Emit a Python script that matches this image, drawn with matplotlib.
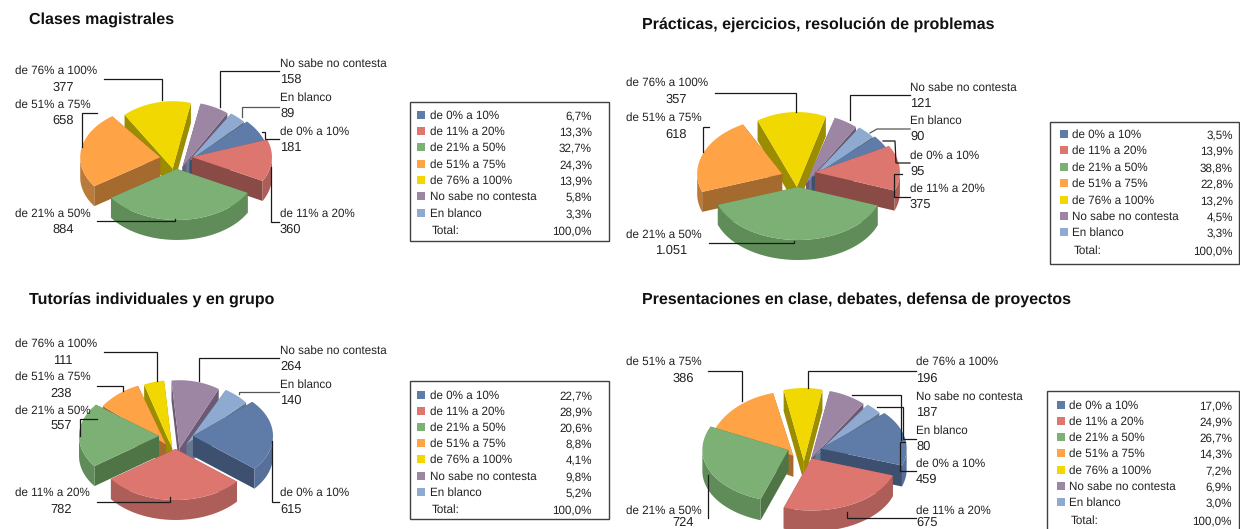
import numpy as np
import matplotlib
matplotlib.use('Agg')
import matplotlib.pyplot as plt
from matplotlib.patches import Polygon, Rectangle

plt.rcParams['font.family'] = ['Liberation Sans', 'DejaVu Sans']
plt.rcParams['text.hinting'] = 'no_hinting'

categories = ['de 0% a 10%', 'de 11% a 20%', 'de 21% a 50%', 'de 51% a 75%',
              'de 76% a 100%', 'No sabe no contesta', 'En blanco']

titles = ['Clases magistrales', 'Prácticas, ejercicios, resolución de problemas',
          'Tutorías individuales y en grupo', 'Presentaciones en clase, debates, defensa de proyectos']

counts_clases = [181, 360, 884, 658, 377, 158, 89]
counts_practicas = [95, 375, 1051, 618, 357, 121, 90]
counts_tutorias = [615, 782, 557, 238, 111, 264, 140]
counts_present = [459, 675, 724, 386, 196, 187, 80]

count_labels_clases = ['181', '360', '884', '658', '377', '158', '89']
count_labels_practicas = ['95', '375', '1.051', '618', '357', '121', '90']
count_labels_tutorias = ['615', '782', '557', '238', '111', '264', '140']
count_labels_present = ['459', '675', '724', '386', '196', '187', '80']

pct_clases = ['6,7%', '13,3%', '32,7%', '24,3%', '13,9%', '5,8%', '3,3%', '100,0%']
pct_practicas = ['3,5%', '13,9%', '38,8%', '22,8%', '13,2%', '4,5%', '3,3%', '100,0%']
pct_tutorias = ['22,7%', '28,9%', '20,6%', '8,8%', '4,1%', '9,8%', '5,2%', '100,0%']
pct_present = ['17,0%', '24,9%', '26,7%', '14,3%', '7,2%', '6,9%', '3,0%', '100,0%']

top_colors = ['#5F7CA8', '#DE7670', '#7CB074', '#FFA347', '#F0D800', '#9C86A4', '#8FAAD0']
wall_colors = ['#3D5070', '#8A4A46', '#4F7446', '#A56A2E', '#9C8C00', '#6C5A74', '#65788F']
rim_colors = ['#56709A', '#AE5E58', '#5F8C58', '#B97A3A', '#B8A400', '#7C6A84', '#7288A6']

TEXT = '#222222'
SIZE = 8.4


def pie3d(ax, values, cx, cy, rx, ry, depth, start, ex, stretch, lift):
    frac = np.array(values) / sum(values)
    edges = start - np.concatenate([[0], np.cumsum(frac)]) * 360
    order = []
    for i in range(len(values)):
        order.append((np.sin(np.radians((edges[i] + edges[i + 1]) / 2)), i))
    for s, i in sorted(order, reverse=True):
        mid = np.radians((edges[i] + edges[i + 1]) / 2)
        # side slices sit higher, back slices look longer (excel's perspective)
        ox = cx + ex * np.cos(mid)
        oy = cy - lift * np.cos(mid) ** 2
        ry_back = ry + stretch * np.sin(mid) ** 2
        t = np.radians(np.linspace(edges[i], edges[i + 1], 80))
        xs = ox + rx * np.cos(t)
        ys = oy - np.where(np.sin(t) > 0, ry_back, ry) * np.sin(t)
        for k in (0, -1):
            wall = [(ox, oy), (xs[k], ys[k]), (xs[k], ys[k] + depth), (ox, oy + depth)]
            ax.add_patch(Polygon(wall, fc=wall_colors[i], ec='none', zorder=2))
        front = np.sin(t) < 0.02
        if front.any():
            fx, fy = xs[front], ys[front]
            rim = np.column_stack([np.r_[fx, fx[::-1]], np.r_[fy, fy[::-1] + depth]])
            ax.add_patch(Polygon(rim, fc=rim_colors[i], ec='none', zorder=2))
        top = np.column_stack([np.r_[ox, xs], np.r_[oy, ys]])
        ax.add_patch(Polygon(top, fc=top_colors[i], ec='none', zorder=2))


def legend_box(ax, x0, y0, x1, y1, rows, swatch_x, text_x, pct_x, pcts):
    ax.add_patch(Rectangle((x0, y0), x1 - x0, y1 - y0, fc='white', ec='#404040', lw=1, zorder=3))
    for i, name in enumerate(categories):
        ax.add_patch(Rectangle((swatch_x, rows[i] - 4), 8, 8, fc=top_colors[i], ec='none', zorder=4))
        ax.text(text_x, rows[i] + 1, name, fontsize=SIZE, va='center', color=TEXT, zorder=4)
        ax.text(pct_x, rows[i] + 1, pcts[i], fontsize=SIZE, va='center', ha='right', color=TEXT, zorder=4)
    ax.text(text_x + 2, rows[7] + 1, 'Total:', fontsize=SIZE, va='center', color=TEXT, zorder=4)
    ax.text(pct_x, rows[7] + 1, pcts[7], fontsize=SIZE, va='center', ha='right', color=TEXT, zorder=4)


def label(ax, x, y, idx, count, y2, right=None):
    ax.text(x, y + 1, categories[idx], fontsize=SIZE, va='center', color=TEXT, zorder=5)
    if right is None:
        ax.text(x, y2 + 1, count, fontsize=9.3, va='center', color=TEXT, zorder=5)
    else:
        ax.text(right, y2 + 1, count, fontsize=9.3, va='center', ha='right', color=TEXT, zorder=5)


def leader(ax, *pts, color='#1a1a1a'):
    xs, ys = zip(*pts)
    ax.plot(xs, ys, color=color, lw=0.9, zorder=5, solid_joinstyle='miter')


fig = plt.figure(figsize=(12.4, 5.29), dpi=100)
ax = fig.add_axes([0, 0, 1, 1])
ax.set_xlim(0, 1240)
ax.set_ylim(529, 0)
ax.axis('off')

ax.text(29, 20, titles[0], fontsize=11.5, fontweight='bold', va='center', color='#111111')
ax.text(642, 25, titles[1], fontsize=11.5, fontweight='bold', va='center', color='#111111')
ax.text(29, 300, titles[2], fontsize=11.5, fontweight='bold', va='center', color='#111111')
ax.text(642, 300, titles[3], fontsize=11.5, fontweight='bold', va='center', color='#111111')

# Clases magistrales
pie3d(ax, counts_clases, 176, 169, 80, 51, 20, 44, 16, 17, 12)
c = count_labels_clases
label(ax, 15, 70, 4, c[4], 87, right=74)
label(ax, 15, 104, 3, c[3], 120, right=74)
label(ax, 15, 213, 2, c[2], 229, right=74)
label(ax, 280, 63, 5, c[5], 79)
label(ax, 280, 97, 6, c[6], 113)
label(ax, 280, 131, 0, c[0], 147)
label(ax, 280, 213, 1, c[1], 229)
leader(ax, (104, 79), (162, 79), (162, 100))
leader(ax, (97, 113), (82, 113), (82, 147))
leader(ax, (97, 221), (175, 221), (175, 219))
leader(ax, (279, 71), (220, 71), (220, 107))
leader(ax, (279, 107), (242, 107), (242, 117), color='#555555')
leader(ax, (279, 139), (265, 139), (265, 132), (262, 132))
leader(ax, (279, 222), (271, 222), (271, 167))
legend_box(ax, 410, 102, 609, 241, [115, 131, 147, 164, 180, 196, 213, 230], 417, 430, 592, pct_clases)

# Practicas
pie3d(ax, counts_practicas, 798, 187, 85, 53, 20, 42, 17, 22, 15)
c = count_labels_practicas
label(ax, 626, 82, 4, c[4], 99, right=687)
label(ax, 626, 117, 3, c[3], 134, right=687)
label(ax, 626, 234, 2, c[2], 250, right=687)
label(ax, 910, 87, 5, c[5], 103)
label(ax, 910, 120, 6, c[6], 136)
label(ax, 910, 155, 0, c[0], 171)
label(ax, 910, 188, 1, c[1], 204)
leader(ax, (715, 93), (796, 93), (796, 112))
leader(ax, (709, 127), (703, 127), (703, 152))
leader(ax, (709, 243), (794, 243), (794, 241))
leader(ax, (910, 95), (850, 95), (850, 120))
leader(ax, (910, 129), (877, 129), (870, 133), color='#555555')
leader(ax, (910, 163), (896, 163), (895, 141), (883, 141))
leader(ax, (910, 197), (894, 197), (894, 174), (902, 174))
legend_box(ax, 1050, 122, 1239, 264, [134, 150, 167, 183, 200, 216, 232, 250], 1060, 1072, 1233, pct_practicas)

# Tutorias
pie3d(ax, counts_tutorias, 176, 449, 80, 51, 20, 42, 17, 18, 13)
c = count_labels_tutorias
label(ax, 15, 343, 4, c[4], 360, right=72)
label(ax, 15, 376, 3, c[3], 393, right=72)
label(ax, 15, 410, 2, c[2], 426, right=72)
label(ax, 15, 492, 1, c[1], 509, right=72)
label(ax, 280, 350, 5, c[5], 366)
label(ax, 280, 384, 6, c[6], 400)
label(ax, 280, 492, 0, c[0], 509)
leader(ax, (104, 352), (157, 352), (157, 381))
leader(ax, (97, 386), (123, 386), (123, 391))
leader(ax, (97, 419), (80, 419), (80, 436))
leader(ax, (97, 502), (170, 502), (170, 497))
leader(ax, (279, 358), (199, 358), (199, 381))
leader(ax, (279, 392), (239, 392), (239, 394), color='#555555')
leader(ax, (279, 502), (272, 502), (272, 441))
legend_box(ax, 410, 381, 609, 519, [395, 411, 427, 443, 459, 476, 492, 509], 417, 430, 592, pct_tutorias)

# Presentaciones
pie3d(ax, counts_present, 804, 461, 86, 52, 21, 42, 17, 21, 13)
c = count_labels_present
label(ax, 626, 361, 3, c[3], 378, right=694)
label(ax, 626, 510, 2, c[2], 522, right=694)
label(ax, 916, 361, 4, c[4], 378)
label(ax, 916, 396, 5, c[5], 412)
label(ax, 916, 430, 6, c[6], 446)
label(ax, 916, 463, 0, c[0], 479)
label(ax, 916, 510, 1, c[1], 522)
leader(ax, (708, 371), (742, 371), (742, 401))
leader(ax, (916, 371), (808, 371), (808, 388))
leader(ax, (852, 395), (901, 395), (901, 440))
leader(ax, (877, 407), (903, 407), (903, 439), (916, 439))
leader(ax, (916, 471), (900, 471), (900, 442), (905, 442))
leader(ax, (916, 518), (847, 518), (847, 512))
leader(ax, (708, 518), (708, 475))
legend_box(ax, 1047, 391, 1239, 545, [405, 421, 437, 453, 470, 486, 502, 520], 1057, 1069, 1232, pct_present)

fig.savefig('out.png', dpi=100)
